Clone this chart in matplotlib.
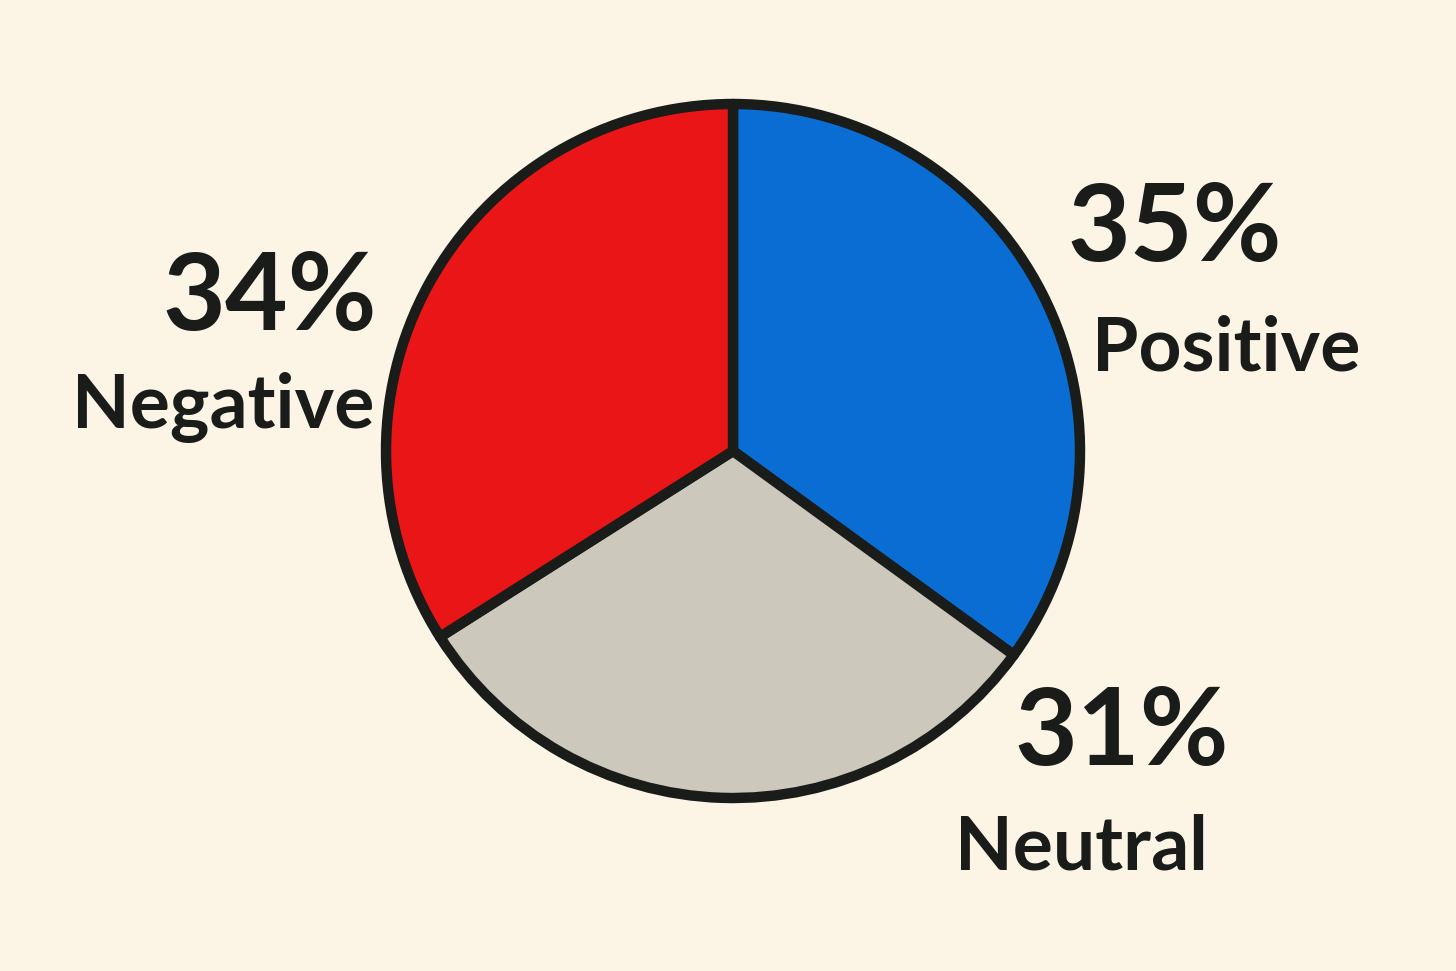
import matplotlib
matplotlib.use("Agg")
import matplotlib.pyplot as plt

# sentiment split
labels = ["Positive", "Neutral", "Negative"]
shares = [35, 31, 34]
colors = ["#0a6dd4", "#cdc8bc", "#ea1517"]

bg = "#fcf5e6"
ink = "#1a1c19"

fig = plt.figure(figsize=(14.56, 9.71), dpi=100, facecolor=bg)
ax = fig.add_axes([0, 0, 1, 1])
ax.set_facecolor(bg)

ax.pie(shares, colors=colors, startangle=90, counterclock=False,
       center=(733, 520), radius=347, frame=True,
       wedgeprops=dict(edgecolor=ink, linewidth=7.5, joinstyle="round"))
ax.set_xlim(0, 1456)
ax.set_ylim(0, 971)
ax.set_aspect("equal")
ax.axis("off")

# label anchors: (x centre, baseline) in pixels, y up
pct_pos = [(1175, 710), (1122, 206), (270, 641)]
name_pos = [(1226, 601), (1081, 101), (223, 543)]

font = "Lato"
for lab, val, pp, npos in zip(labels, shares, pct_pos, name_pos):
    ax.text(pp[0], pp[1], f"{val}%", ha="center", va="baseline",
            fontsize=78, color=ink, family=font, weight="bold")
    ax.text(npos[0], npos[1], lab, ha="center", va="baseline",
            fontsize=54, color=ink, family=font, weight="bold")

fig.savefig("out.png", dpi=100, facecolor=bg)
